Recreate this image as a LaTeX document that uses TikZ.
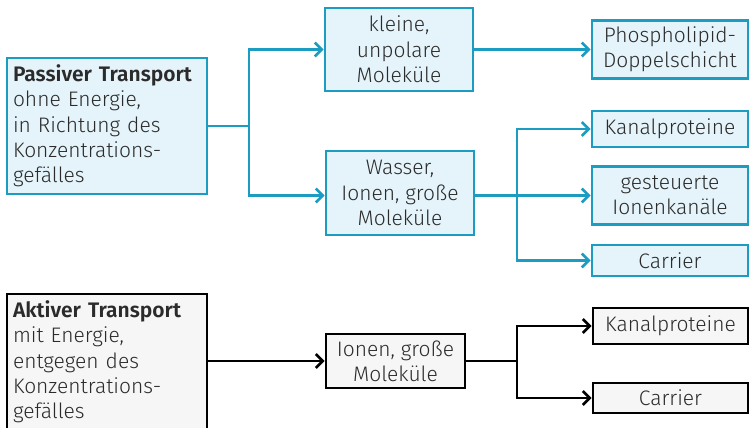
\documentclass[tikz,border=0pt]{standalone}
\usepackage{fontspec}
\setmainfont{Fira Sans}[UprightFont=* Light, BoldFont=* SemiBold]
\usetikzlibrary{arrows.meta}
\definecolor{pblue}{HTML}{1B9CC0}
\definecolor{pfill}{HTML}{E5F4FA}
\definecolor{afill}{HTML}{F6F6F6}
\definecolor{txt}{HTML}{2B2B2B}
\begin{document}
\begin{tikzpicture}[x=1pt,y=-1pt,
  every node/.style={font=\fontsize{21}{25.3}\selectfont, text=txt, inner sep=0pt},
  pbox/.style={draw=pblue, fill=pfill, line width=2.8pt, align=center},
  abox/.style={draw=black, fill=afill, line width=2.8pt, align=center},
  parr/.style={draw=pblue, line width=2.6pt, -{Straight Barb[length=7pt,width=14pt]}},
  pline/.style={draw=pblue, line width=2.6pt},
  aarr/.style={draw=black, line width=2.6pt, -{Straight Barb[length=7pt,width=14pt]}},
  aline/.style={draw=black, line width=2.6pt}]
\useasboundingbox (0,0) rectangle (749,428);
% passive
\node[pbox, minimum width=200pt, minimum height=136pt, text width=188pt, align=left] (passive) at (107,126)
  {\textbf{Passiver Transport}\\ohne Energie,\\in Richtung des\\Konzentrations-\\gefälles};
\node[pbox, minimum width=148pt, minimum height=83pt] (kleine) at (399,49.5) {kleine,\\unpolare\\Moleküle};
\node[pbox, minimum width=148pt, minimum height=84pt] (wasser) at (400,193) {Wasser,\\Ionen, große\\Moleküle};
\node[pbox, minimum width=156pt, minimum height=58pt] (phos) at (670,49.5) {Phospholipid-\\Doppelschicht};
\node[pbox, minimum width=156pt, minimum height=36pt] (kanal1) at (670,129) {Kanalproteine};
\node[pbox, minimum width=156pt, minimum height=58pt] (gest) at (670,195.5) {gesteuerte\\Ionenkanäle};
\node[pbox, minimum width=156pt, minimum height=31pt] (carr1) at (670,260.5) {Carrier};
\coordinate (j1) at (249,126);
\coordinate (j2) at (517,195.5);
\draw[pline] (passive.east) -- (j1);
\draw[parr] (j1) |- (kleine.west);
\draw[parr] (j1) |- (wasser.west |- gest.west);
\draw[parr] (kleine.east) -- (phos.west);
\draw[parr] (wasser.east |- gest.west) -- (gest.west);
\draw[parr] (j2) |- (kanal1.west);
\draw[parr] (j2) |- (carr1.west);
% active
\node[abox, minimum width=200pt, minimum height=136pt, text width=188pt, align=left] (aktiv) at (107,362)
  {\textbf{Aktiver Transport}\\mit Energie,\\entgegen des\\Konzentrations-\\gefälles};
\node[abox, minimum width=139pt, minimum height=54pt] (ionen) at (395.5,361) {Ionen, große\\Moleküle};
\node[abox, minimum width=155pt, minimum height=36pt] (kanal2) at (670.5,326) {Kanalproteine};
\node[abox, minimum width=155pt, minimum height=30pt] (carr2) at (670.5,398) {Carrier};
\coordinate (j3) at (517,361);
\draw[aarr] (aktiv.east |- ionen.west) -- (ionen.west);
\draw[aline] (ionen.east) -- (j3);
\draw[aarr] (j3) |- (kanal2.west);
\draw[aarr] (j3) |- (carr2.west);
\end{tikzpicture}
\end{document}
